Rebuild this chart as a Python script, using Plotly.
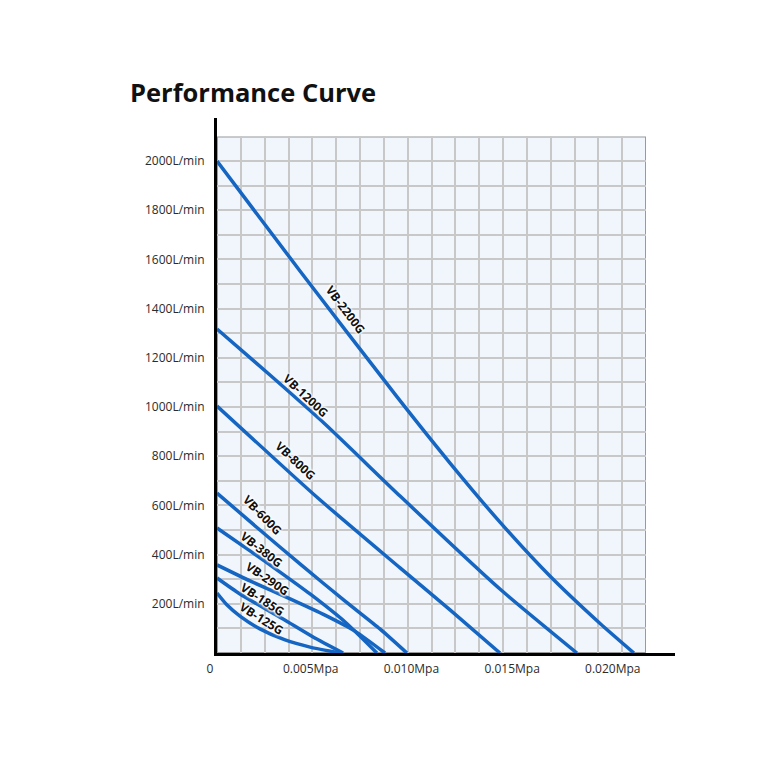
import math
import plotly.graph_objects as go

# ---------------- data ----------------
models = ["VB-2200G", "VB-1200G", "VB-800G", "VB-600G", "VB-380G", "VB-290G", "VB-185G", "VB-125G"]

p_2200 = [0, 0.00412, 0.00894, 0.01157, 0.01405, 0.01653, 0.01902, 0.02070]
q_2200 = [2000, 1553, 1041, 772, 532, 313, 120, 0]

p_1200 = [0, 0.00263, 0.00536, 0.00909, 0.01405, 0.01787]
q_1200 = [1317, 1130, 931, 638, 260, 0]

p_800 = [0, 0.00501, 0.00909, 0.01157, 0.01405]
q_800 = [1004, 630, 346, 175, 0]

p_600 = [0, 0.00213, 0.00412, 0.00636, 0.00809, 0.00943]
q_600 = [650, 500, 362, 211, 98, 0]

p_380 = [0, 0.00164, 0.00313, 0.00462, 0.00636, 0.00794]
q_380 = [508, 415, 329, 240, 126, 0]

p_290 = [0, 0.00164, 0.00363, 0.00536, 0.00685, 0.00834]
q_290 = [358, 293, 220, 154, 89, 0]

p_185 = [0, 0.00114, 0.00328, 0.00477, 0.00626]
q_185 = [305, 240, 138, 65, 0]

p_125 = [0, 0.00050, 0.00114, 0.00213, 0.00338, 0.00462, 0.00611]
q_125 = [244, 195, 150, 98, 53, 24, 0]

# label anchor (pressure, flow) and angle along each curve
label_p = [0.00623, 0.00427, 0.00375, 0.00214, 0.00209, 0.00238, 0.00216, 0.00211]
label_q = [1388, 1036, 770, 549, 408, 289, 205, 126]
label_angle = [53, 43, 43, 46, 38, 34, 33, 32]

x_tickvals = [0, 0.005, 0.010, 0.015, 0.020]
x_ticktext = ["0", "0.005Mpa", "0.010Mpa", "0.015Mpa", "0.020Mpa"]
y_tickvals = [200, 400, 600, 800, 1000, 1200, 1400, 1600, 1800, 2000]
y_ticktext = [f"{v}L/min" for v in y_tickvals]

# ---------------- figure ----------------
X_MAX = 0.022741
Y_MAX = 2175
GRID_TOP = 2100
GRID_COLS = 18
LINE_COLOR = "#1565c3"
LABEL_OFFSET = 4  # px, perpendicular lift of labels above their curve

series = [(p_2200, q_2200), (p_1200, q_1200), (p_800, q_800), (p_600, q_600),
          (p_380, q_380), (p_290, q_290), (p_185, q_185), (p_125, q_125)]

fig = go.Figure()

# invisible trace to materialise the grid axes (drawn first, underneath)
fig.add_trace(go.Scatter(x=[0], y=[0], xaxis="x", yaxis="y", mode="markers",
                         marker=dict(opacity=0), showlegend=False, hoverinfo="skip"))

for name, (px, qy) in zip(models, series):
    fig.add_trace(go.Scatter(
        x=px, y=qy, mode="lines", name=name, xaxis="x2", yaxis="y2",
        line=dict(color=LINE_COLOR, width=3.5, shape="spline", smoothing=0.6),
        hoverinfo="name", showlegend=False,
    ))

for name, lp, lq, ang in zip(models, label_p, label_q, label_angle):
    r = math.radians(ang)
    fig.add_annotation(
        x=lp, y=lq, xref="x2", yref="y2", text=f"<b>{name}</b>", showarrow=False,
        textangle=ang, xanchor="center", yanchor="middle",
        xshift=LABEL_OFFSET * math.sin(r), yshift=LABEL_OFFSET * math.cos(r),
        font=dict(family="Open Sans", size=12, color="#111111",
                  shadow="1px 1px 2px white, -1px -1px 2px white, 1px -1px 2px white, -1px 1px 2px white"),
    )

fig.add_shape(type="rect", xref="x", yref="y", x0=0, x1=GRID_COLS, y0=0, y1=GRID_TOP,
              line=dict(color="#9a9a9a", width=2), fillcolor="#f0f6fc", layer="below")

fig.update_layout(
    width=768, height=768,
    margin=dict(l=217, r=93, t=118, b=115),
    paper_bgcolor="white", plot_bgcolor="rgba(0,0,0,0)",
    font=dict(family="Open Sans", color="#2b2b2b"),
    title=dict(text="<b>Performance Curve</b>", x=130 / 768, xanchor="left",
               y=1 - 93 / 768, yanchor="middle", xref="container", yref="container",
               font=dict(family="Open Sans", size=25.5, color="#111111")),
    # grid axes (underneath)
    xaxis=dict(range=[0, GRID_COLS], domain=[0, 429 / 458], anchor="y",
               dtick=1, showgrid=True, gridcolor="#c8c8c8", gridwidth=1.5,
               showticklabels=False, zeroline=False, showline=False, ticks=""),
    yaxis=dict(range=[0, GRID_TOP], domain=[0, GRID_TOP / Y_MAX], anchor="x",
               dtick=100, showgrid=True, gridcolor="#c8c8c8", gridwidth=1.5,
               showticklabels=False, zeroline=False, showline=False, ticks=""),
    # data axes
    xaxis2=dict(range=[0, X_MAX], domain=[0, 1], anchor="y2",
                tickvals=x_tickvals, ticktext=x_ticktext,
                showgrid=False, zeroline=False, showline=True, linecolor="black", linewidth=3,
                ticks="", ticklabelshift=-7, ticklabelstandoff=3,
                tickfont=dict(size=12, color="#2b2b2b")),
    yaxis2=dict(range=[0, Y_MAX], domain=[0, 1], anchor="x2",
                tickvals=y_tickvals, ticktext=y_ticktext,
                showgrid=False, zeroline=False, showline=True, linecolor="black", linewidth=3,
                ticks="", ticklabelstandoff=7,
                tickfont=dict(size=12, color="#2b2b2b")),
)

fig.write_html("out.html")
